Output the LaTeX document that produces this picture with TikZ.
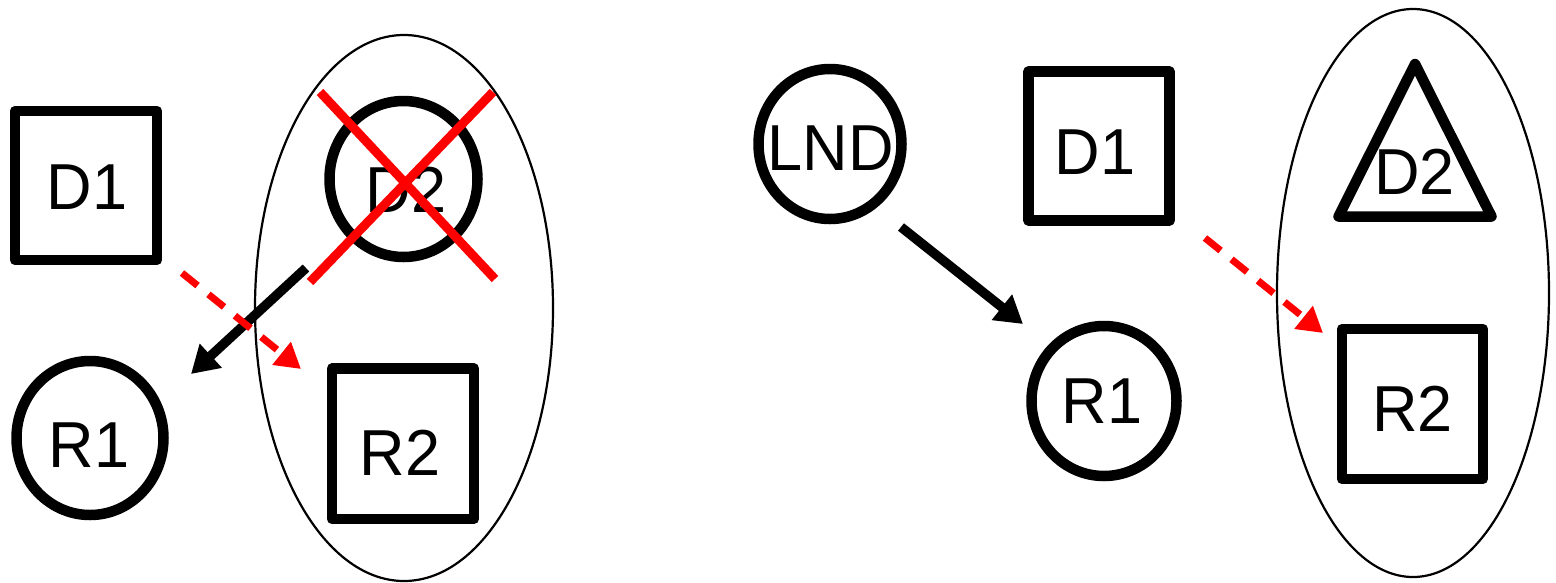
\documentclass[tikz,border=0pt]{standalone}
\usepackage{fontspec}
\setmainfont{Liberation Sans}
\usetikzlibrary{arrows.meta}
\newcommand{\lbltext}[1]{\scalebox{0.97}[1]{#1}}
\begin{document}
\begin{tikzpicture}[x=1pt,y=-1pt,
  shp/.style={line width=10.5pt, line join=round},
  lbl/.style={font=\fontsize{65}{72}\selectfont, inner sep=0pt},
  grp/.style={line width=2.2pt},
  blk/.style={line width=9.5pt, -{Triangle[length=27pt,width=31pt]}},
  redarr/.style={draw=red, line width=7pt, dash pattern=on 20pt off 14pt, -{Triangle[length=25pt,width=28pt]}},
  cross/.style={draw=red, line width=9pt}]
\useasboundingbox (0,0) rectangle (1556,582);
% left part
\draw[grp] (404,308) ellipse [x radius=149, y radius=273];
\draw[shp] (15,111) rectangle (157,260);
\node[lbl] (lD1) at (87,187.5) {\lbltext{D1}};
\draw[shp] (403.5,179) ellipse [x radius=74, y radius=78];
\node[lbl] (lD2) at (406,189.5) {\lbltext{D2}};
\draw[shp] (90,438) ellipse [x radius=73.5, y radius=77];
\node[lbl] (lR1) at (89,445) {\lbltext{R1}};
\draw[shp] (332,368.5) rectangle (474,519);
\node[lbl] (lR2) at (400,453) {\lbltext{R2}};
\coordinate (x1a) at (320,92); \coordinate (x1b) at (495,279);
\coordinate (x2a) at (493,92); \coordinate (x2b) at (310,282);
\draw[cross] (x1a) -- (x1b);
\draw[cross] (x2a) -- (x2b);
\coordinate (la1) at (306,268); \coordinate (la2) at (191,374);
\draw[blk] (la1) -- (la2);
\coordinate (lr1) at (182,273); \coordinate (lr2) at (301,369);
\draw[redarr] (lr1) -- (lr2);
% right part
\draw[grp] (1413,293) ellipse [x radius=136, y radius=284];
\draw[shp] (830,144) ellipse [x radius=71.5, y radius=75];
\node[lbl] (LND) at (831,148.5) {\lbltext{LND}};
\draw[shp] (1028.5,71.5) rectangle (1169.5,220.5);
\node[lbl] (rD1) at (1095,152.5) {\lbltext{D1}};
\draw[shp] (1415,64) -- (1491.5,216.5) -- (1338.5,216.5) -- cycle;
\node[lbl] (rD2) at (1414.5,172) {\lbltext{D2}};
\draw[shp] (1104,401) ellipse [x radius=72.5, y radius=75];
\node[lbl] (rR1) at (1102,401) {\lbltext{R1}};
\draw[shp] (1342,329) rectangle (1483,479);
\node[lbl] (rR2) at (1412.5,409) {\lbltext{R2}};
\coordinate (ra1) at (901,227); \coordinate (ra2) at (1023,324);
\draw[blk] (ra1) -- (ra2);
\coordinate (rr1) at (1205,238); \coordinate (rr2) at (1323,333);
\draw[redarr] (rr1) -- (rr2);
\end{tikzpicture}
\end{document}
